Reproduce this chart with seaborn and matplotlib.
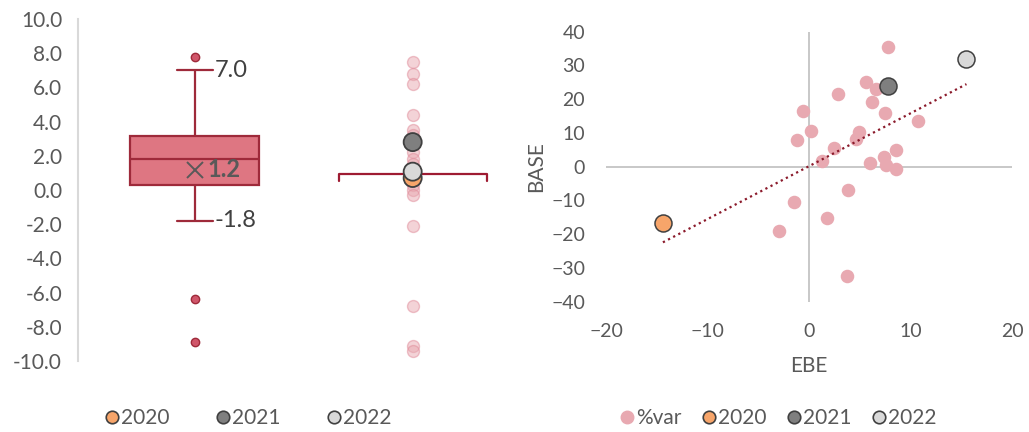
import numpy as np
import pandas as pd
import matplotlib
matplotlib.use("Agg")
import matplotlib.pyplot as plt
from matplotlib.lines import Line2D
from matplotlib import cbook
import seaborn as sns

# left panel: distribution of %var, plus the single-value column
box_values = [-8.9, -6.4, -1.8, -1.5, -1.0, 0.3, 0.4, 0.6, 1.0, 1.5, 1.8,
              2.2, 2.5, 2.8, 3.0, 3.15, 3.3, 3.5, 3.8, 7.0, 7.75]
dot_values = [7.5, 6.8, 6.2, 4.4, 3.5, 3.2, 2.2, 1.8, 1.5, 0.3, 0.0, -0.3,
              -2.1, -6.8, -9.1, -9.4]
ref_level = 0.93
groups = ["box", "dots"]

years = ["2020", "2021", "2022"]
year_left = [0.7, 2.8, 1.07]
year_colors = ["#F7A56A", "#7F7F7F", "#D9D9D9"]

# right panel: EBE vs BASE
ebe = [7.75, 5.58, 6.6, 2.8, 6.17, -0.62, 7.49, 10.7, 0.16, 4.93, 4.6, -1.2,
       2.5, 8.54, 1.28, 7.36, 6.04, 7.62, 8.6, 3.84, -1.48, 1.77, -2.96, 3.78]
base = [35.6, 25.1, 22.9, 21.5, 19.2, 16.5, 15.9, 13.5, 10.6, 10.4, 8.1, 7.9,
        5.5, 4.9, 1.6, 3.0, 1.1, 0.6, -0.6, -6.9, -10.5, -15.3, -19.1, -32.4]
year_ebe = [-14.4, 7.8, 15.5]
year_base = [-16.8, 24.0, 31.8]

pink = "#E8A9B1"
red_dark = "#9E2A3A"
txt = "#595959"

sns.set_style("white")
plt.rcParams["font.family"] = ["Lato", "DejaVu Sans"]
plt.rcParams["text.color"] = txt
plt.rcParams["axes.labelcolor"] = txt
plt.rcParams["xtick.color"] = txt
plt.rcParams["ytick.color"] = txt

fig = plt.figure(figsize=(10.29, 4.32), dpi=100)
ax1 = fig.add_axes([0.0758, 0.1644, 0.41, 0.7917])
ax2 = fig.add_axes([0.589, 0.3016, 0.3946, 0.625])

# ---- left: box plot
box_df = pd.DataFrame({"group": "box", "value": box_values})
sns.boxplot(data=box_df, x="group", y="value", order=groups, width=0.59,
            color="#DE7682", linecolor=red_dark, linewidth=1.6, saturation=1,
            showmeans=True,
            meanprops=dict(marker="x", markeredgecolor=txt, markersize=11,
                           markeredgewidth=1.4),
            flierprops=dict(marker="o", markerfacecolor="#D0566A",
                            markeredgecolor=red_dark, markersize=6),
            capwidths=0.165, ax=ax1)

st = cbook.boxplot_stats(box_values)[0]
ax1.text(0.09, st["whishi"], f"{st['whishi']:.1f}", fontsize=17,
         color="#404040", va="center", ha="left")
ax1.text(0.09, st["whislo"], f"{st['whislo']:.1f}", fontsize=17,
         color="#404040", va="center", ha="left")
ax1.text(0.057, st["mean"], f"{st['mean']:.1f}", fontsize=17, fontweight="bold",
         color=txt, va="center", ha="left")

# flat reference bracket on the second column
half = 0.34
ax1.plot([1 - half, 1 - half, 1 + half, 1 + half],
         [ref_level - 0.38, ref_level, ref_level, ref_level - 0.38],
         color="#9E1B32", lw=1.6, zorder=2)

sns.stripplot(x=["dots"] * len(dot_values), y=dot_values, order=groups,
              jitter=False, color=pink, alpha=0.5, size=8.6, linewidth=1,
              edgecolor="#E08A98", ax=ax1, zorder=3)
sns.stripplot(x=["dots"] * len(years), y=year_left, hue=years, hue_order=years,
              order=groups, palette=year_colors, jitter=False, size=13,
              linewidth=1.3, edgecolor="#404040", legend=False, ax=ax1, zorder=4)

ax1.set_xlim(-0.535, 1.4)
ax1.set_ylim(-10, 10)
ax1.set_yticks(np.arange(-10, 10.1, 2))
ax1.set_yticklabels([f"{v:.1f}" for v in np.arange(-10, 10.1, 2)])
ax1.set_xticks([])
ax1.set_xlabel("")
ax1.set_ylabel("")
for s in ["top", "right", "bottom"]:
    ax1.spines[s].set_visible(False)
ax1.spines["left"].set_color("#D9D9D9")
ax1.spines["left"].set_linewidth(1.5)
ax1.tick_params(axis="y", length=0, pad=11.5, labelsize=15)

# ---- right: scatter with trend
ax2.axhline(0, color="#BFBFBF", lw=1.2, zorder=0)
ax2.axvline(0, color="#BFBFBF", lw=1.2, zorder=0)
sns.scatterplot(x=ebe, y=base, color=pink, s=95, linewidth=0, ax=ax2, zorder=2)

all_df = pd.DataFrame({"EBE": ebe + year_ebe, "BASE": base + year_base})
sns.regplot(data=all_df, x="EBE", y="BASE", scatter=False, ci=None,
            truncate=True, line_kws=dict(color="#8B1A2B", lw=1.6, ls=(0, (1, 1.6))),
            ax=ax2)
ax2.lines[-1].set_zorder(3)

for xv, yv, c in zip(year_ebe, year_base, year_colors):
    ax2.scatter([xv], [yv], s=150, color=c, edgecolor="#404040", lw=1.1, zorder=4)

ax2.set_xlim(-20, 20)
ax2.set_ylim(-40, 40)
ax2.set_xticks([-20, -10, 0, 10, 20])
ax2.set_yticks(np.arange(-40, 41, 10))
for s in ax2.spines.values():
    s.set_visible(False)
ax2.tick_params(length=0, pad=15, labelsize=14)
ax2.set_xlabel("EBE", fontsize=15)
ax2.set_ylabel("BASE", fontsize=15)
ax2.xaxis.set_label_coords(0.5, -0.201)
ax2.yaxis.set_label_coords(-0.148, 0.5)

# ---- legends
W, H = 1029, 432
h_years = [Line2D([], [], marker="o", ls="", markerfacecolor=c,
                  markeredgecolor="#404040", markeredgewidth=1.2, markersize=9)
           for c in year_colors]
leg_kw = dict(frameon=False, borderpad=0, borderaxespad=0, handlelength=0.6,
              handletextpad=0.15, fontsize=15, labelcolor=txt, loc="center left")
fig.legend(h_years, years, bbox_to_anchor=(105.5 / W, 1 - 418 / H), ncol=3,
           columnspacing=2.25, **leg_kw)

h_var = Line2D([], [], marker="o", ls="", markerfacecolor=pink,
               markeredgecolor=pink, markersize=9)
fig.legend([h_var] + h_years, ["%var"] + years, bbox_to_anchor=(620.5 / W, 1 - 418 / H),
           ncol=4, columnspacing=1.0, **leg_kw)

fig.savefig("out.png", dpi=100, facecolor="white")
